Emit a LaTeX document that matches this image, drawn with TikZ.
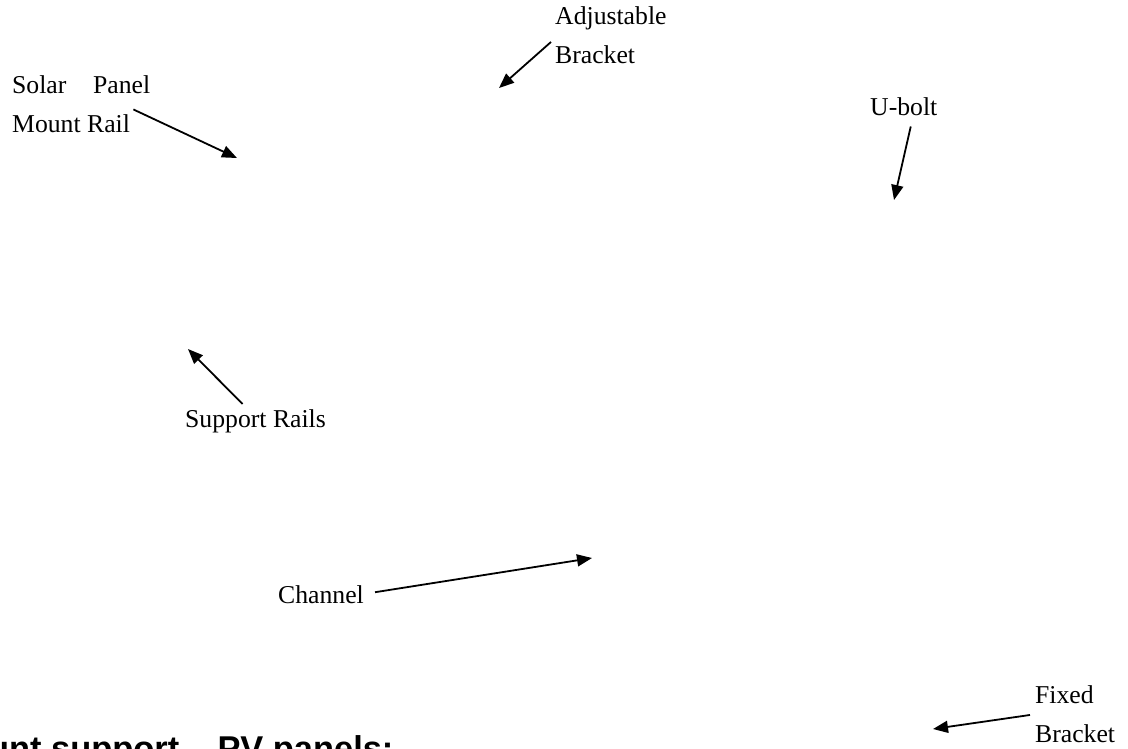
\documentclass[tikz,border=0pt]{standalone}
\usepackage{fontspec}
\setmainfont{Liberation Serif}
\newfontfamily\headfont{Liberation Sans}
\usetikzlibrary{arrows.meta, positioning}

\tikzset{
  lbl/.style={inner sep=2pt, align=left, font=\fontsize{25.7}{38.5}\selectfont},
  pointer/.style={-{Triangle[length=15pt,width=12pt]}, line width=1.8pt},
}

\begin{document}
\begin{tikzpicture}[x=1pt, y=-1pt]
	\useasboundingbox (0,0) rectangle (1128,748);
	\clip (0,0) rectangle (1128,748);

	% labels
	\node[lbl, anchor=base west] (adj) at (553,63) {Adjustable\\Bracket};
	\node[lbl, anchor=base west] (solar) at (10,132) {\makebox[138pt][s]{Solar\hfill Panel}\\Mount Rail};
	\node[lbl, anchor=base west] (ubolt) at (868,115) {U-bolt};
	\node[lbl, anchor=base west] (support) at (183,427) {Support Rails};
	\node[lbl, anchor=base west] (channel) at (276,603) {Channel};
	\node[lbl, anchor=base west] (fixed) at (1033,742) {Fixed\\Bracket};
	\node[inner sep=0pt, anchor=base west, font={\headfont\bfseries\fontsize{34.4}{40}\selectfont}] (title) at (-12,760) {unt support – PV panels:};

	% arrow tips (the parts themselves are not drawn)
	\coordinate (adj-tip) at (499,88);
	\coordinate (solar-tip) at (237,158);
	\coordinate (ubolt-tip) at (894,200);
	\coordinate (support-tip) at (188,349);
	\coordinate (channel-tip) at (592,558);
	\coordinate (fixed-tip) at (933,729);

	% pointers
	\draw[pointer] ([shift={(-2,7)}]adj.west) -- (adj-tip);
	\draw[pointer] ([shift={(-19,-25)}]solar.south east) -- (solar-tip);
	\draw[pointer] ([shift={(7,9)}]ubolt.south) -- (ubolt-tip);
	\draw[pointer] ([shift={(-13,-3)}]support.north) -- (support-tip);
	\draw[pointer] ([shift={(9,-2)}]channel.east) -- (channel-tip);
	\draw[pointer] ([shift={(-3,1)}]fixed.west) -- (fixed-tip);
\end{tikzpicture}
\end{document}
